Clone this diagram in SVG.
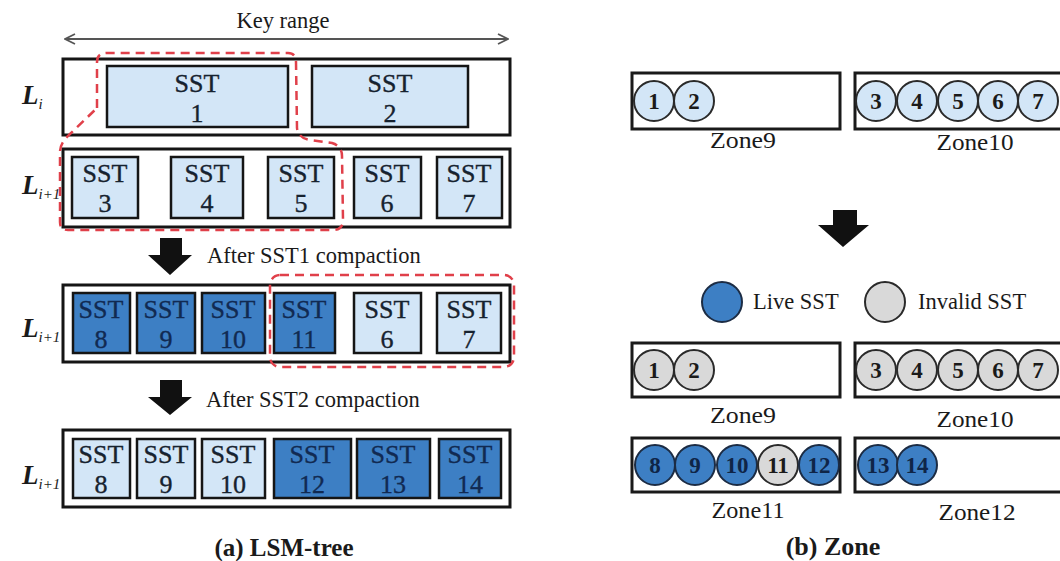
<svg xmlns="http://www.w3.org/2000/svg" width="1060" height="561" viewBox="0 0 1060 561">
  <defs>
    <style>
      .lvl { fill: #ffffff; stroke: #151515; stroke-width: 3; }
      .sst { fill: #d3e6f7; stroke: #151515; stroke-width: 2.5; }
      .sst-new { fill: #3d7fc4; stroke: #151515; stroke-width: 2.5; }
      .sst-lbl { font-family: "Liberation Serif", "Times New Roman", serif; font-size: 26px; fill: #16222f; stroke: #16222f; stroke-width: 0.35; text-anchor: middle; }
      .sst-lbl.dk { fill: #112a52; stroke: #112a52; }
      .lv { font-family: "Liberation Serif", "Times New Roman", serif; font-style: italic; font-weight: bold; font-size: 27px; fill: #1a1a1a; }
      .lv tspan.sub { font-size: 15px; font-weight: normal; }
      .cap { font-family: "Liberation Serif", "Times New Roman", serif; font-weight: bold; font-size: 25px; fill: #1a1a1a; text-anchor: middle; }
      .step { font-family: "Liberation Serif", "Times New Roman", serif; font-size: 22.5px; fill: #1a1a1a; }
      .zone { fill: #ffffff; stroke: #1a1a1a; stroke-width: 3; }
      .zlbl { font-family: "Liberation Serif", "Times New Roman", serif; font-size: 23px; fill: #1a1a1a; text-anchor: middle; }
      .leg { font-family: "Liberation Serif", "Times New Roman", serif; font-size: 22.5px; fill: #1a1a1a; }
      .c-blue { fill: #d3e6f7; stroke: #2a2a2a; stroke-width: 2; }
      .c-live { fill: #3d7fc4; stroke: #1c2c44; stroke-width: 2; }
      .c-inv { fill: #d9d9d9; stroke: #2a2a2a; stroke-width: 2; }
      .cnum { font-family: "Liberation Serif", "Times New Roman", serif; font-weight: bold; font-size: 23px; fill: #1a1a1a; text-anchor: middle; }
      .cnum.dk { fill: #0f2547; }
      .group-line { fill: none; stroke: #e0404a; stroke-width: 2.5; stroke-dasharray: 9 6; }
      .down { fill: #111111; }
    </style>
    <marker id="open-head" viewBox="0 0 12 12" refX="11" refY="6" markerWidth="12" markerHeight="12" markerUnits="userSpaceOnUse" orient="auto-start-reverse">
      <path d="M1,1 L11,6 L1,11" fill="none" stroke="#555" stroke-width="1.8"/>
    </marker>
  </defs>

  <!-- (a) LSM-tree -->
  <g id="key-range">
    <line x1="65" y1="39" x2="508" y2="39" stroke="#555" stroke-width="1.8" marker-start="url(#open-head)" marker-end="url(#open-head)"/>
    <text class="step" x="283" y="28" text-anchor="middle">Key range</text>
  </g>

  <g id="level-i">
    <text class="lv" x="22" y="104">L<tspan class="sub" dy="5">i</tspan></text>
    <rect class="lvl" x="63" y="59" width="447" height="76"/>
    <g id="sst1"><rect class="sst" x="107" y="66" width="181" height="61"/>
      <text class="sst-lbl" x="197" y="92">SST</text><text class="sst-lbl" x="197" y="122">1</text></g>
    <g id="sst2"><rect class="sst" x="312" y="66" width="156" height="61"/>
      <text class="sst-lbl" x="390" y="92">SST</text><text class="sst-lbl" x="390" y="122">2</text></g>
  </g>

  <g id="level-i1-before">
    <text class="lv" x="22" y="194">L<tspan class="sub" dy="5">i+1</tspan></text>
    <rect class="lvl" x="63" y="149" width="447" height="78"/>
    <g id="sst3"><rect class="sst" x="72" y="157" width="66" height="61"/>
      <text class="sst-lbl" x="105" y="182">SST</text><text class="sst-lbl" x="105" y="212">3</text></g>
    <g id="sst4"><rect class="sst" x="171" y="157" width="72" height="61"/>
      <text class="sst-lbl" x="207" y="182">SST</text><text class="sst-lbl" x="207" y="212">4</text></g>
    <g id="sst5"><rect class="sst" x="268" y="157" width="66" height="61"/>
      <text class="sst-lbl" x="301" y="182">SST</text><text class="sst-lbl" x="301" y="212">5</text></g>
    <g id="sst6"><rect class="sst" x="354" y="157" width="67" height="61"/>
      <text class="sst-lbl" x="387" y="182">SST</text><text class="sst-lbl" x="387" y="212">6</text></g>
    <g id="sst7"><rect class="sst" x="437" y="157" width="65" height="61"/>
      <text class="sst-lbl" x="469" y="182">SST</text><text class="sst-lbl" x="469" y="212">7</text></g>
  </g>

  <g id="step1">
    <polygon class="down" points="160,238 182,238 182,255 192,255 170,275 148,255 160,255"/>
    <text class="step" x="207" y="263">After SST1 compaction</text>
  </g>

  <g id="level-i1-after1">
    <text class="lv" x="22" y="337">L<tspan class="sub" dy="5">i+1</tspan></text>
    <rect class="lvl" x="63" y="285" width="447" height="77"/>
    <g id="sst8a"><rect class="sst-new" x="73" y="293" width="57" height="60"/>
      <text class="sst-lbl dk" x="101" y="318">SST</text><text class="sst-lbl dk" x="101" y="348">8</text></g>
    <g id="sst9a"><rect class="sst-new" x="137" y="293" width="58" height="60"/>
      <text class="sst-lbl dk" x="166" y="318">SST</text><text class="sst-lbl dk" x="166" y="348">9</text></g>
    <g id="sst10a"><rect class="sst-new" x="202" y="293" width="63" height="60"/>
      <text class="sst-lbl dk" x="233" y="318">SST</text><text class="sst-lbl dk" x="233" y="348">10</text></g>
    <g id="sst11"><rect class="sst-new" x="274" y="293" width="61" height="60"/>
      <text class="sst-lbl dk" x="304" y="318">SST</text><text class="sst-lbl dk" x="304" y="348">11</text></g>
    <g id="sst6a"><rect class="sst" x="354" y="293" width="67" height="60"/>
      <text class="sst-lbl" x="387" y="318">SST</text><text class="sst-lbl" x="387" y="348">6</text></g>
    <g id="sst7a"><rect class="sst" x="437" y="293" width="64" height="60"/>
      <text class="sst-lbl" x="469" y="318">SST</text><text class="sst-lbl" x="469" y="348">7</text></g>
  </g>

  <g id="step2">
    <polygon class="down" points="160,380 182,380 182,397 192,397 170,415 148,397 160,397"/>
    <text class="step" x="206" y="407">After SST2 compaction</text>
  </g>

  <g id="level-i1-after2">
    <text class="lv" x="22" y="484">L<tspan class="sub" dy="5">i+1</tspan></text>
    <rect class="lvl" x="63" y="430" width="447" height="77"/>
    <g id="sst8b"><rect class="sst" x="73" y="439" width="57" height="59"/>
      <text class="sst-lbl" x="101" y="463">SST</text><text class="sst-lbl" x="101" y="493">8</text></g>
    <g id="sst9b"><rect class="sst" x="137" y="439" width="58" height="59"/>
      <text class="sst-lbl" x="166" y="463">SST</text><text class="sst-lbl" x="166" y="493">9</text></g>
    <g id="sst10b"><rect class="sst" x="202" y="439" width="63" height="59"/>
      <text class="sst-lbl" x="233" y="463">SST</text><text class="sst-lbl" x="233" y="493">10</text></g>
    <g id="sst12"><rect class="sst-new" x="274" y="439" width="77" height="59"/>
      <text class="sst-lbl dk" x="312" y="463">SST</text><text class="sst-lbl dk" x="312" y="493">12</text></g>
    <g id="sst13"><rect class="sst-new" x="357" y="439" width="73" height="59"/>
      <text class="sst-lbl dk" x="393" y="463">SST</text><text class="sst-lbl dk" x="393" y="493">13</text></g>
    <g id="sst14"><rect class="sst-new" x="439" y="439" width="62" height="59"/>
      <text class="sst-lbl dk" x="470" y="463">SST</text><text class="sst-lbl dk" x="470" y="493">14</text></g>
  </g>

  <!-- compaction groups -->
  <g id="connectors">
    <path class="group-line" d="M97,108 L97,62 Q97,53 107,53 L288,53 Q296,53 296,62 L297,128 Q298,138 310,140 L332,143 Q342,146 342,156 L343,220 Q343,230 333,230 L68,230 Q60,230 60,222 L60,152 Q60,143 70,134 Z"/>
    <rect class="group-line" x="270" y="275" width="244" height="92" rx="10"/>
  </g>

  <text class="cap" x="284" y="556">(a) LSM-tree</text>

  <!-- (b) Zone -->
  <g id="zones-before">
    <g id="zone9a">
      <rect class="zone" x="632" y="73" width="208" height="56"/>
      <circle class="c-blue" cx="654" cy="101" r="20"/><text class="cnum" x="654" y="109">1</text>
      <circle class="c-blue" cx="694" cy="101" r="20"/><text class="cnum" x="694" y="109">2</text>
      <text class="zlbl" x="743" y="148" textLength="66" lengthAdjust="spacingAndGlyphs">Zone9</text>
    </g>
    <g id="zone10a">
      <rect class="zone" x="855" y="73" width="212" height="56"/>
      <circle class="c-blue" cx="876" cy="101" r="20"/><text class="cnum" x="876" y="109">3</text>
      <circle class="c-blue" cx="917" cy="101" r="20"/><text class="cnum" x="917" y="109">4</text>
      <circle class="c-blue" cx="958" cy="101" r="20"/><text class="cnum" x="958" y="109">5</text>
      <circle class="c-blue" cx="998" cy="101" r="20"/><text class="cnum" x="998" y="109">6</text>
      <circle class="c-blue" cx="1038" cy="101" r="20"/><text class="cnum" x="1038" y="109">7</text>
      <text class="zlbl" x="975" y="150" textLength="77" lengthAdjust="spacingAndGlyphs">Zone10</text>
    </g>
  </g>

  <polygon class="down" points="833,210 857,210 857,225 869,225 843,247 818,225 833,225"/>

  <g id="legend">
    <circle class="c-live" cx="722" cy="302" r="20"/>
    <text class="leg" x="753" y="309">Live SST</text>
    <circle class="c-inv" cx="885" cy="302" r="20"/>
    <text class="leg" x="918" y="309">Invalid SST</text>
  </g>

  <g id="zones-after">
    <g id="zone9b">
      <rect class="zone" x="632" y="343" width="208" height="54"/>
      <circle class="c-inv" cx="654" cy="370" r="20"/><text class="cnum" x="654" y="378">1</text>
      <circle class="c-inv" cx="694" cy="370" r="20"/><text class="cnum" x="694" y="378">2</text>
      <text class="zlbl" x="743" y="423" textLength="66" lengthAdjust="spacingAndGlyphs">Zone9</text>
    </g>
    <g id="zone10b">
      <rect class="zone" x="855" y="343" width="212" height="54"/>
      <circle class="c-inv" cx="876" cy="370" r="20"/><text class="cnum" x="876" y="378">3</text>
      <circle class="c-inv" cx="917" cy="370" r="20"/><text class="cnum" x="917" y="378">4</text>
      <circle class="c-inv" cx="958" cy="370" r="20"/><text class="cnum" x="958" y="378">5</text>
      <circle class="c-inv" cx="998" cy="370" r="20"/><text class="cnum" x="998" y="378">6</text>
      <circle class="c-inv" cx="1038" cy="370" r="20"/><text class="cnum" x="1038" y="378">7</text>
      <text class="zlbl" x="975" y="427" textLength="77" lengthAdjust="spacingAndGlyphs">Zone10</text>
    </g>
    <g id="zone11">
      <rect class="zone" x="632" y="438" width="208" height="54"/>
      <circle class="c-live" cx="655" cy="465" r="20"/><text class="cnum dk" x="655" y="473">8</text>
      <circle class="c-live" cx="695" cy="465" r="20"/><text class="cnum dk" x="695" y="473">9</text>
      <circle class="c-live" cx="737" cy="465" r="20"/><text class="cnum dk" x="737" y="473">10</text>
      <circle class="c-inv" cx="778" cy="465" r="20"/><text class="cnum" x="778" y="473">11</text>
      <circle class="c-live" cx="819" cy="465" r="20"/><text class="cnum dk" x="819" y="473">12</text>
      <text class="zlbl" x="748" y="518" textLength="73" lengthAdjust="spacingAndGlyphs">Zone11</text>
    </g>
    <g id="zone12">
      <rect class="zone" x="855" y="438" width="212" height="54"/>
      <circle class="c-live" cx="878" cy="465" r="20"/><text class="cnum dk" x="878" y="473">13</text>
      <circle class="c-live" cx="917" cy="465" r="20"/><text class="cnum dk" x="917" y="473">14</text>
      <text class="zlbl" x="977" y="520" textLength="77" lengthAdjust="spacingAndGlyphs">Zone12</text>
    </g>
  </g>

  <text class="cap" x="833" y="555" style="font-size:26px">(b) Zone</text>
</svg>
